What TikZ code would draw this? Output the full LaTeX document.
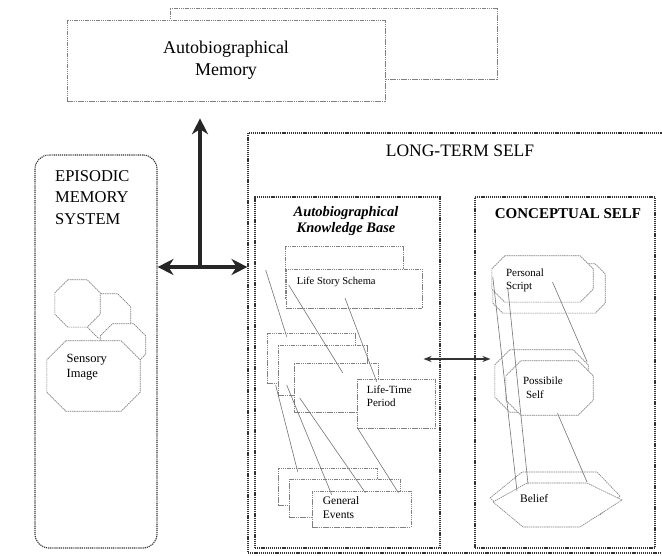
\documentclass[tikz,border=0pt]{standalone}
\usepackage{fontspec}
\setmainfont{Liberation Serif}
\usetikzlibrary{positioning,arrows.meta}

% octagon round a (frameless) node, #2 = size of the cut corners
\newcommand\drawoct[2]{%
    \draw[innerbox] ([xshift=#2]#1.north west) -- ([xshift=-#2]#1.north east)
        -- ([yshift=-#2]#1.north east) -- ([yshift=#2]#1.south east)
        -- ([xshift=-#2]#1.south east) -- ([xshift=#2]#1.south west)
        -- ([yshift=#2]#1.south west) -- ([yshift=-#2]#1.north west) -- cycle;}

\begin{document}
\begin{tikzpicture}[
    x=1pt, y=-1pt,
    outerbox/.style={draw=black!80, line width=1.1pt, dash pattern=on 1.2pt off 0.9pt},
    innerbox/.style={draw=black!50, line width=0.6pt, dash pattern=on 1.5pt off 0.7pt, fill=white, inner sep=0pt},
    octholder/.style={inner sep=0pt},
    link/.style={draw=black!55, line width=0.6pt},
    bigline/.style={draw=black!85, line width=3.6pt, >={Stealth[length=16pt,width=16pt]}},
    thinarrow/.style={draw=black!80, line width=1.3pt, >={Stealth[length=8pt,width=6pt]}},
    smalltext/.style={inner sep=0pt, align=left, font=\fontsize{11}{13}\selectfont}
    ]
        \useasboundingbox (0,0) rectangle (662,556);

        %Nodes
        \node[innerbox, minimum width=327pt, minimum height=71pt]
            (amback) at (333.5,43.5) {};
        \node[innerbox, minimum width=318pt, minimum height=81pt, align=center, font=\fontsize{18}{22}\selectfont]
            (amfront) at (226,60.5) {Autobiographical\\Memory};

        \node[outerbox, minimum width=422pt, minimum height=420pt]
            (lts) at (459,343) {};
        \node[outerbox, rounded corners=14pt, minimum width=122pt, minimum height=393pt]
            (episodic) at (96,351.5) {};
        \node[outerbox, minimum width=185pt, minimum height=351pt]
            (akb) at (347.5,372.5) {};
        \node[outerbox, minimum width=180pt, minimum height=351pt]
            (concept) at (565,372.5) {};

        \node[font=\fontsize{17.5}{20}\selectfont]
            (ltstitle) at (460,151) {LONG-TERM SELF};
        \node[anchor=north west, inner sep=0pt, align=left, font=\fontsize{16.5}{21.5}\selectfont]
            (emstitle) at (55,170) {EPISODIC\\MEMORY\\SYSTEM};
        \node[align=center, font=\bfseries\itshape\fontsize{14.5}{16}\selectfont]
            (akbtitle) at (346,221) {Autobiographical\\Knowledge Base};
        \node[font=\bfseries\fontsize{15}{18}\selectfont]
            (concepttitle) at (568,213.5) {CONCEPTUAL SELF};

        % episodic images
        \node[octholder, minimum width=45pt, minimum height=44pt] (oct2) at (108,316) {};
        \drawoct{oct2}{13pt}
        \node[octholder, minimum width=45pt, minimum height=47pt] (oct1) at (77.5,303.5) {};
        \drawoct{oct1}{13pt}
        \node[octholder, minimum width=45pt, minimum height=42pt] (oct3) at (123,345) {};
        \drawoct{oct3}{12pt}
        \node[octholder, minimum width=93pt, minimum height=70pt] (octbig) at (93.5,376) {};
        \drawoct{octbig}{19pt}
        \node[smalltext, anchor=north west, font=\fontsize{12.5}{15}\selectfont]
            (sensory) at ([shift={(-27,13)}]octbig.north) {Sensory\\Image};

        % knowledge base
        \node[innerbox, minimum width=118pt, minimum height=52pt]
            (lssback) at (344,272) {};
        \node[innerbox, minimum width=136pt, minimum height=39pt]
            (lssfront) at (354,288.5) {};
        \node[innerbox, minimum width=88pt, minimum height=50pt]
            (ltp1) at (311,358) {};
        \node[innerbox, minimum width=89pt, minimum height=50pt]
            (ltp2) at (322.5,370) {};
        \node[innerbox, minimum width=84pt, minimum height=49pt]
            (ltp3) at (336,387.5) {};
        \node[innerbox, minimum width=78pt, minimum height=49pt]
            (ltp4) at (396,403.5) {};
        \node[innerbox, minimum width=99pt, minimum height=37pt]
            (ge1) at (327.5,486.5) {};
        \node[innerbox, minimum width=111pt, minimum height=38pt]
            (ge2) at (344.5,498) {};
        \node[innerbox, minimum width=99pt, minimum height=36pt]
            (ge3) at (361.5,509) {};

        % conceptual self
        \node[octholder, minimum width=112pt, minimum height=49pt] (psback) at (549,288.5) {};
        \drawoct{psback}{10pt}
        \node[octholder, minimum width=101pt, minimum height=46pt] (psfront) at (542.5,279) {};
        \drawoct{psfront}{13pt}
        \node[octholder, minimum width=93pt, minimum height=62pt] (posback) at (541.5,381) {};
        \drawoct{posback}{15pt}
        \node[octholder, minimum width=87pt, minimum height=54pt] (posfront) at (549.5,388) {};
        \drawoct{posfront}{15pt}
        \coordinate (belc) at (555,505);
        \draw[innerbox] ([shift={(-65,-7)}]belc) -- ([shift={(-33,-33)}]belc) -- ([shift={(42,-33)}]belc)
            -- ([shift={(65,-9)}]belc) -- ([shift={(45,10)}]belc) -- ([shift={(-45,10)}]belc) -- cycle;
        \draw[innerbox] ([shift={(-62,-3)}]belc) -- ([shift={(-28,-22)}]belc) -- ([shift={(32,-22)}]belc)
            -- ([shift={(67,-5)}]belc) -- ([shift={(25,22)}]belc) -- ([shift={(-32,22)}]belc) -- cycle;

        %Lines
        \draw[link] ([shift={(-19,-2)}]lssback.west) -- ([shift={(20,4)}]ltp1.north west);
        \draw[link] ([shift={(3,-3.5)}]lssfront.west) -- ([shift={(49,10)}]ltp3.north west);
        \draw[link] ([shift={(-9,9.5)}]lssfront.center) -- ([shift={(20,3)}]ltp4.north west);
        \draw[link] ([shift={(9,2)}]ltp1.south west) -- ([shift={(20,4)}]ge1.north west);
        \draw[link] ([shift={(9,15)}]ltp2.west) -- ([shift={(20,4)}]ge3.north west);
        \draw[link] ([shift={(6,10.5)}]ltp3.west) -- ([shift={(-35,14)}]ge2.north east);
        \draw[link] ([shift={(1,0)}]ltp4.south west) -- ([shift={(-13,2)}]ge3.north east);

        \draw[link] ([shift={(1,-2)}]psfront.west) -- ([shift={(-38,-14)}]belc);
        \draw[link] ([shift={(16,9)}]psfront.west) -- ([shift={(-27,-21)}]belc);
        \draw[link] ([shift={(10,3)}]psfront.center) -- ([shift={(-1,-19)}]posback.east);
        \draw[link] ([shift={(8,-2)}]posfront.south) -- ([shift={(32,-23)}]belc);

        % labels
        \node[smalltext, font=\fontsize{10.5}{13}\selectfont, below right=8pt and 11pt of lssfront.north west]
            (lsstext) {Life Story Schema};
        \node[smalltext, below right=7pt and 10pt of ltp4.north west]
            (ltptext) {Life-Time\\Period};
        \node[smalltext, font=\fontsize{11.5}{14}\selectfont, below right=6pt and 11pt of ge3.north west]
            (getext) {General\\Events};
        \node[smalltext, anchor=north west]
            (pstext) at ([shift={(14,-10)}]psfront.west) {Personal\\Script};
        \node[smalltext, anchor=north west, font=\fontsize{11}{14}\selectfont]
            (postext) at ([shift={(17,-11)}]posfront.west) {Possibile\\\hspace{3pt}Self};
        \node[smalltext, anchor=north west, font=\fontsize{11.5}{14}\selectfont]
            (beltext) at ([shift={(-35,-11)}]belc) {Belief};

        %Arrows
        \coordinate (hub) at (200,267);
        \draw[bigline, ->, shorten >=17pt] (hub) -- (amfront.south -| hub);
        \draw[bigline, <->] (episodic.east |- hub) -- (lts.west |- hub);
        \draw[thinarrow, <->] ([shift={(-17,-13.5)}]akb.east) -- ([shift={(16,-13.5)}]concept.west);
\end{tikzpicture}
\end{document}
